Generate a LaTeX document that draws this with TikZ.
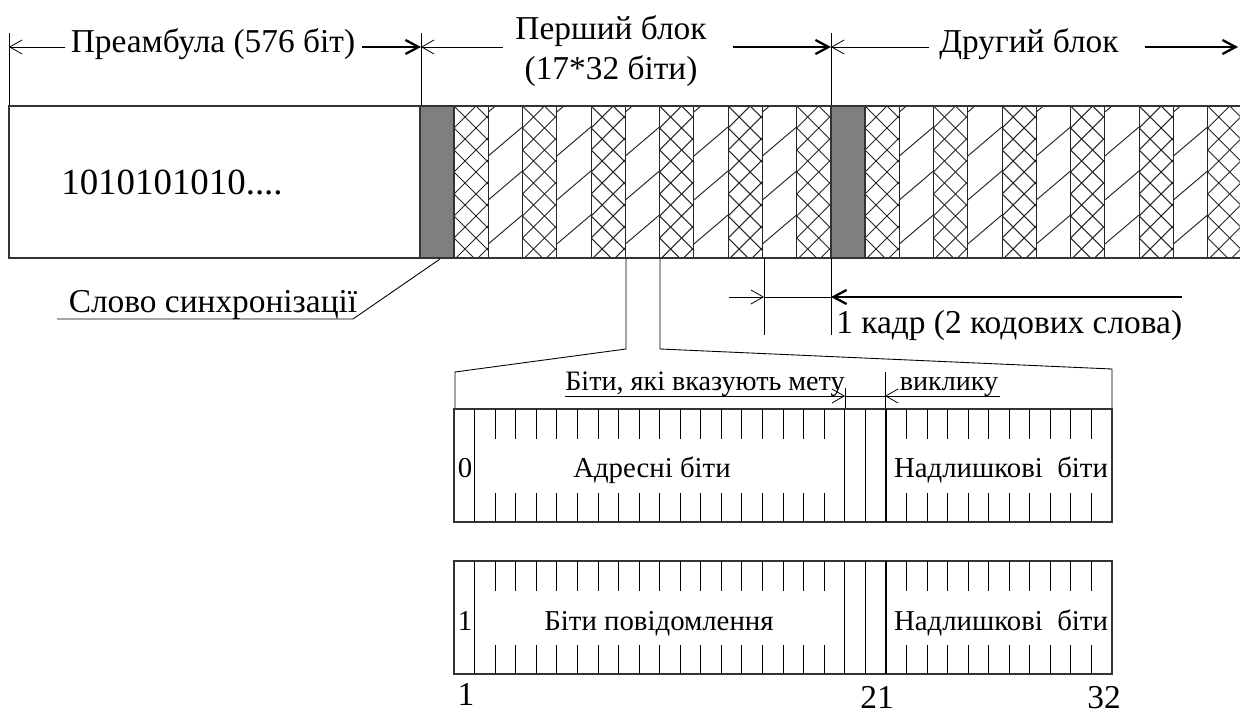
\documentclass[tikz,border=0pt]{standalone}
\usepackage{fontspec}
\setmainfont{Liberation Serif}
\usepackage{xcolor}
\usetikzlibrary{arrows.meta}
\definecolor{syncgray}{HTML}{7F7F7F}

\begin{document}
\begin{tikzpicture}[
  x=0.02cm, y=-0.02cm,
  lbl/.style={inner sep=0pt, anchor=base, font=\fontsize{19}{22.7}\selectfont},
  smlbl/.style={inner sep=0pt, anchor=base, font=\fontsize{16}{19}\selectfont},
  bitlbl/.style={inner sep=0pt, anchor=base, font=\fontsize{16.4}{19}\selectfont},
  frame/.style={line width=0.8pt, draw=black!80},
  hatchln/.style={line width=0.55pt, black!85},
  extln/.style={line width=0.5pt},
  thinarr/.style={-{Straight Barb[length=7pt,width=8pt]}, line width=0.45pt},
  thkarr/.style={-{Straight Barb[length=7.5pt,width=8pt]}, line width=1.3pt},
]
  \useasboundingbox (0,0) rectangle (1240,713);

  % dimension row on top
  \coordinate (p0) at (9,47);
  \coordinate (p1) at (421,47);
  \coordinate (p2) at (831,47);
  \coordinate (p3) at (1238,47);
  \node[lbl] (pream) at (213,53) {Преамбула (576 біт)};
  \node[lbl] (blk1)  at (611,40) {Перший блок};
  \node[lbl] (blk1b) at (611,80) {(17*32 біти)};
  \node[lbl] (blk2)  at (1029,53) {Другий блок};

  \draw[extln] (9,33) -- (9,106) (421,33) -- (421,106) (831,33) -- (831,106);
  \draw[thinarr] ([xshift=-3pt]pream.west |- p0) -- (p0);
  \draw[thkarr]  ([xshift=4pt]pream.east |- p0) -- (p1);
  \draw[thinarr] ([xshift=-7pt]blk1.west |- p1) -- (p1);
  \draw[thkarr]  ([xshift=15pt]blk1.east |- p1) -- (p2);
  \draw[thinarr] ([xshift=-6pt]blk2.west |- p2) -- (p2);
  \draw[thkarr]  ([xshift=15pt]blk2.east |- p2) -- (p3);

  % the frame band
  \foreach \xs in {454, 865}{
    \foreach \i in {0,...,10}{
      \pgfmathsetmacro\xa{\xs+\i*34.27}
      \begin{scope}
        \clip (\xa,106) rectangle ++(34.27,152);
        \ifodd\i
          \foreach \k in {0,...,5}
            \draw[hatchln] (\xa,{112+(\k)*44}) -- ++(40,-34);
        \else
          \foreach \k in {-2,...,9}
            \draw[hatchln] (\xa,{106+(\k)*22}) -- ++(40,-40)
                           (\xa,{106+(\k)*22}) -- ++(40,40);
        \fi
      \end{scope}
      \draw[hatchln] (\xa,106) -- (\xa,258);
    }
  }
  \draw[frame] (9,106) rectangle (421,258);
  \draw[frame] (421,106) -- (1240,106) (421,258) -- (1240,258);
  \draw[frame, fill=syncgray] (420,106) rectangle (454,258);
  \draw[frame, fill=syncgray] (831,106) rectangle (865,258);
  \node[lbl, font=\fontsize{21}{24}\selectfont] (pbits) at (172,194) {1010101010....};

  % sync word label
  \node[lbl] (syncl) at (213,312) {Слово синхронізації};
  \coordinate (ul) at (57,319);
  \coordinate (ur) at (353,319);
  \coordinate (sw) at (440,259);
  \draw[extln] (ul) -- (ur) -- (sw);

  % one frame
  \node[lbl, anchor=base west] (kadr) at (836,333) {1 кадр (2 кодових слова)};
  \coordinate (f0) at (729,297);
  \coordinate (f1) at (764,297);
  \coordinate (f2) at (831,297);
  \draw[extln] (764,259) -- (764,335) (831,258) -- (831,335);
  \draw[thinarr] (f0) -- (f1);
  \draw[extln] (f1) -- (f2);
  \draw[thkarr] (kadr.east |- f2) -- (f2);

  % zoom into one code word
  \draw[extln] (626,258) -- (626,349) -- (455,372) -- (455,409);
  \draw[extln] (660,258) -- (660,349) -- (1112,369) -- (1112,409);
  \node[smlbl] (mety) at (705,390) {Біти, які вказують мету};
  \node[smlbl] (vykl) at (949,390) {виклику};
  \coordinate (m1) at (845,396);
  \coordinate (m2) at (885,396);
  \draw[extln] (845,388) -- (845,409) (885,372) -- (885,409);
  \draw[thinarr] (mety.west |- m1) -- (m1);
  \draw[extln] (m1) -- (m2);
  \draw[thinarr] ([xshift=1pt]vykl.east |- m2) -- (m2);

  % code words
  \foreach \yb in {409, 561}{
    \draw[frame] (454,\yb) rectangle (1112,\yb+113);
    \foreach \k in {2,...,18,22,23,...,31}
      \draw[extln] ({454+\k*20.5625},\yb) -- ++(0,30)
                   ({454+\k*20.5625},\yb+113) -- ++(0,-29);
    \foreach \k in {1,19,20}
      \draw[extln] ({454+\k*20.5625},\yb) -- ++(0,113);
    \draw[line width=1.2pt] ({454+21*20.5625},\yb) -- ++(0,113);
  }
  \node[bitlbl] (flag0) at (465,477) {0};
  \node[bitlbl] (adr)   at (652,477) {Адресні біти};
  \node[bitlbl] (chk1)  at (1001,477) {Надлишкові\ \ біти};
  \node[bitlbl] (flag1) at (465,630) {1};
  \node[bitlbl] (msg)   at (659,630) {Біти повідомлення};
  \node[bitlbl] (chk2)  at (1001,630) {Надлишкові\ \ біти};

  \node[lbl] (n1)  at (466,705) {1};
  \node[lbl] (n21) at (877,708) {21};
  \node[lbl] (n32) at (1104,708) {32};
\end{tikzpicture}
\end{document}
